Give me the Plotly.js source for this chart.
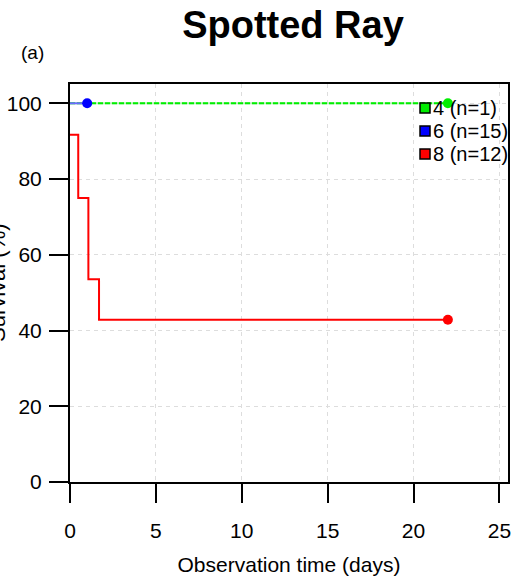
<!DOCTYPE html>
<html><head><meta charset="utf-8">
<script src="https://cdn.plot.ly/plotly-3.0.1.min.js"></script>
<style>html,body{margin:0;padding:0;background:#fff}#plot{width:519px;height:577px}</style>
</head><body><div id="plot"></div>
<script>
// Kaplan-Meier data
const groupNames = ["4 (n=1)", "6 (n=15)", "8 (n=12)"];
const groupColors = ["#00ee00", "#0000ff", "#ff0000"];
const g4Time = [0, 22];
const g4Surv = [100, 100];
const g4CensorTime = [22];
const g4CensorSurv = [100];
const g6Time = [0, 1];
const g6Surv = [100, 100];
const g6CensorTime = [1];
const g6CensorSurv = [100];
const g8Time = [0, 0.48, 1.07, 1.69, 22];
const g8Surv = [91.67, 75, 53.57, 42.86, 42.86];
const g8CensorTime = [22];
const g8CensorSurv = [42.86];
const xTicks = [0, 5, 10, 15, 20, 25];
const yTicks = [0, 20, 40, 60, 80, 100];

const font = "Liberation Sans, Arial, sans-serif";
const W = 519, H = 577, ML = 70, MR = 11, MT = 84, MB = 95;
const PW = W - ML - MR, PH = H - MT - MB;
const px2x = p => (p - ML) / PW;
const px2y = p => (H - MB - p) / PH;

const traces = [
  {x: g4Time, y: g4Surv, mode: "lines", line: {shape: "hv", color: "#b8f0b8", width: 2}, showlegend: false, hoverinfo: "skip"},
  {x: g4Time, y: g4Surv, mode: "lines", line: {shape: "hv", color: groupColors[0], width: 2, dash: "5px,2px"}, showlegend: false, hoverinfo: "skip"},
  {x: g6Time, y: g6Surv, mode: "lines", line: {shape: "hv", color: "#6a6aff", width: 2}, showlegend: false, hoverinfo: "skip"},
  {x: g8Time, y: g8Surv, mode: "lines", line: {shape: "hv", color: groupColors[2], width: 2}, showlegend: false, hoverinfo: "skip"},
  {x: g4CensorTime, y: g4CensorSurv, mode: "markers", marker: {color: groupColors[0], size: 10}, showlegend: false},
  {x: g6CensorTime, y: g6CensorSurv, mode: "markers", marker: {color: groupColors[1], size: 10}, showlegend: false},
  {x: g8CensorTime, y: g8CensorSurv, mode: "markers", marker: {color: groupColors[2], size: 10}, showlegend: false}
];

// manual legend (squares + text) to match the original placement
const legendRowsPx = [108, 131, 154];
const shapes = [];
const annotations = [
  {text: "(a)", xref: "paper", yref: "paper", x: px2x(32), y: px2y(52), xanchor: "center", yanchor: "middle", showarrow: false, font: {size: 19}},
  {text: "Survival (%)", xref: "paper", yref: "paper", x: px2x(-3), y: px2y(283), xanchor: "center", yanchor: "middle", textangle: -90, showarrow: false, font: {size: 22}}
];
groupNames.forEach((name, i) => {
  const cy = legendRowsPx[i];
  shapes.push({type: "rect", xref: "paper", yref: "paper", x0: px2x(420), x1: px2x(430), y0: px2y(cy - 5), y1: px2y(cy + 5),
    fillcolor: groupColors[i], line: {color: "#000", width: 1.5}, layer: "above"});
  annotations.push({text: name, xref: "paper", yref: "paper", x: px2x(431), y: px2y(cy), xanchor: "left", yanchor: "middle",
    showarrow: false, font: {size: 20}});
});

const layout = {
  width: W, height: H,
  margin: {l: ML, r: MR, t: MT, b: MB},
  paper_bgcolor: "#fff", plot_bgcolor: "#fff",
  font: {family: font, color: "#000", size: 21},
  title: {text: "<b>Spotted Ray</b>", font: {family: font, size: 38, color: "#000"}, x: 293 / W, xanchor: "center", y: 1 - 25 / H, yanchor: "middle"},
  showlegend: false,
  xaxis: {
    range: [0, 25.5], tickvals: xTicks, ticktext: xTicks.map(String),
    ticks: "outside", ticklen: 19, tickwidth: 2, tickcolor: "#000",
    showline: true, linecolor: "#000", linewidth: 2, mirror: true,
    showgrid: true, gridcolor: "#dddddd", griddash: "4px,4px", gridwidth: 1,
    zeroline: false, ticklabelstandoff: 10,
    tickfont: {size: 21},
    title: {text: "Observation time (days)", font: {size: 21}, standoff: 16}
  },
  yaxis: {
    range: [0, 105.1], tickvals: yTicks, ticktext: yTicks.map(String),
    ticks: "outside", ticklen: 19, tickwidth: 2, tickcolor: "#000",
    showline: true, linecolor: "#000", linewidth: 2, mirror: true,
    showgrid: true, gridcolor: "#dddddd", griddash: "4px,4px", gridwidth: 1,
    zeroline: false, ticklabelstandoff: 3,
    tickfont: {size: 21}
  },
  shapes: shapes,
  annotations: annotations
};
Plotly.newPlot("plot", traces, layout, {displayModeBar: false, staticPlot: true});
</script></body></html>
